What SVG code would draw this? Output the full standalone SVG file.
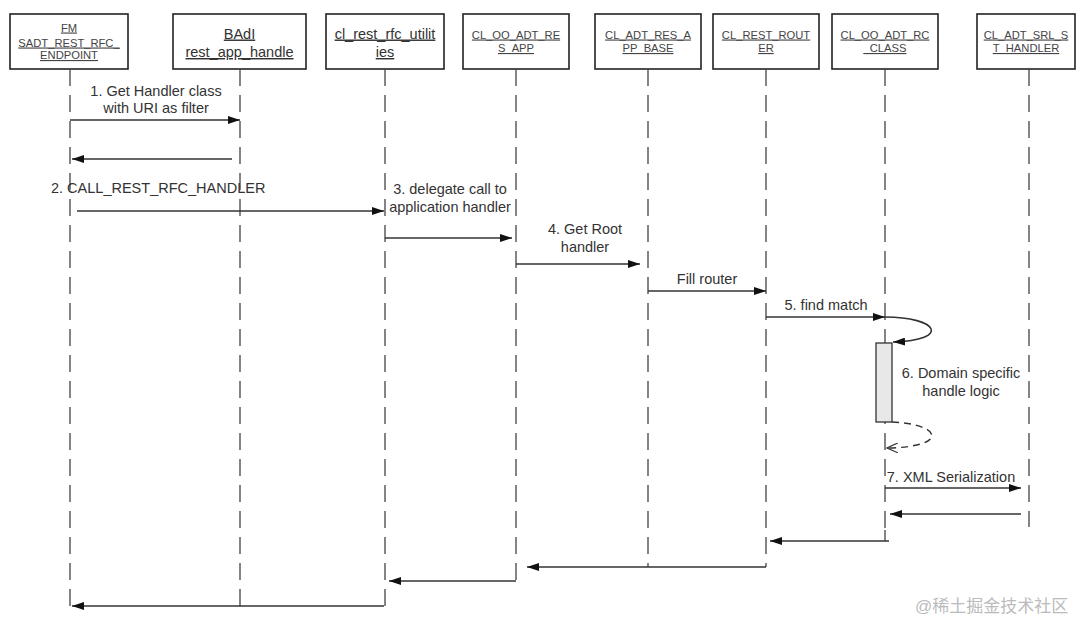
<svg xmlns="http://www.w3.org/2000/svg" width="1080" height="620" viewBox="0 0 1080 620">
<defs>
<marker id="ah" viewBox="0 0 12 8" refX="12" refY="4" markerWidth="12" markerHeight="8" markerUnits="userSpaceOnUse" orient="auto">
<path d="M0,0 L12,4 L0,8 Z" fill="#111"/>
</marker>
<marker id="oh" viewBox="0 0 12 10" refX="11" refY="5" markerWidth="12" markerHeight="10" markerUnits="userSpaceOnUse" orient="auto">
<path d="M0,0 L11,5 L0,10" fill="none" stroke="#333" stroke-width="1.2"/>
</marker>
<style>
.box{fill:#fff;stroke:#222;stroke-width:1.6}
.life{stroke:#444;stroke-width:1.3;stroke-dasharray:17 9;fill:none}
.msg{stroke:#333;stroke-width:1.6;fill:none;marker-end:url(#ah)}
.sm{font-family:"Liberation Sans",Arial,sans-serif;font-size:11.2px;fill:#444;text-anchor:middle;text-decoration:underline}
.lg{font-family:"Liberation Sans",Arial,sans-serif;font-size:14.5px;fill:#333;text-anchor:middle;text-decoration:underline}
.lbl{font-family:"Liberation Sans",Arial,sans-serif;font-size:14.5px;fill:#333;text-anchor:middle}
</style>
</defs>
<rect width="1080" height="620" fill="#fff"/>

<g id="n1">
<rect class="box" x="10" y="14" width="118" height="55"/>
<text class="sm" x="69" y="31.5">FM</text>
<text class="sm" x="69" y="46.5">SADT_REST_RFC_</text>
<text class="sm" x="69" y="59">ENDPOINT</text>
<line class="life" x1="70" y1="69" x2="70" y2="610"/>
</g>
<g id="n2">
<rect class="box" x="173" y="14" width="133" height="55"/>
<text class="lg" x="239.5" y="38.5">BAdI</text>
<text class="lg" x="239.5" y="57">rest_app_handle</text>
<line class="life" x1="240" y1="69" x2="240" y2="610"/>
</g>
<g id="n3">
<rect class="box" x="326" y="14" width="118" height="55"/>
<text class="lg" x="385" y="38.5">cl_rest_rfc_utilit</text>
<text class="lg" x="385" y="57">ies</text>
<line class="life" x1="385" y1="69" x2="385" y2="606"/>
</g>
<g id="n4">
<rect class="box" x="463" y="14" width="106" height="55"/>
<text class="sm" x="516" y="38.5">CL_OO_ADT_RE</text>
<text class="sm" x="516" y="52">S_APP</text>
<line class="life" x1="516" y1="69" x2="516" y2="581"/>
</g>
<g id="n5">
<rect class="box" x="595" y="14" width="106" height="55"/>
<text class="sm" x="648" y="38.5">CL_ADT_RES_A</text>
<text class="sm" x="648" y="52">PP_BASE</text>
<line class="life" x1="648" y1="69" x2="648" y2="567"/>
</g>
<g id="n6">
<rect class="box" x="713" y="14" width="106" height="55"/>
<text class="sm" x="766" y="38.5">CL_REST_ROUT</text>
<text class="sm" x="766" y="52">ER</text>
<line class="life" x1="766" y1="69" x2="766" y2="567"/>
</g>
<g id="n7">
<rect class="box" x="832" y="14" width="106" height="55"/>
<text class="sm" x="885" y="38.5">CL_OO_ADT_RC</text>
<text class="sm" x="885" y="52">_CLASS</text>
<line class="life" x1="885" y1="69" x2="885" y2="530"/>
<line x1="885" y1="530" x2="885" y2="541" stroke="#444" stroke-width="1.3"/>
<rect x="876" y="343" width="16" height="79" fill="#e8e8e8" stroke="#333" stroke-width="1.3"/>
</g>
<g id="n8">
<rect class="box" x="977" y="14" width="98" height="55"/>
<text class="sm" x="1026" y="38.5">CL_ADT_SRL_S</text>
<text class="sm" x="1026" y="52">T_HANDLER</text>
<line class="life" x1="1029" y1="69" x2="1029" y2="527"/>
</g>

<g id="connectors">
<line class="msg" x1="70" y1="120" x2="240" y2="120"/>
<line class="msg" x1="232" y1="159" x2="72" y2="159"/>
<line class="msg" x1="77" y1="211" x2="384" y2="211"/>
<line class="msg" x1="385" y1="238" x2="512" y2="238"/>
<line class="msg" x1="516" y1="264" x2="640" y2="264"/>
<line class="msg" x1="648" y1="291" x2="766" y2="291"/>
<line class="msg" x1="766" y1="317" x2="885" y2="317"/>
<path class="msg" d="M885,317 C938,317 952,340 893,342"/>
<path d="M892,422 C942,424 950,447 887,448" fill="none" stroke="#333" stroke-width="1.4" stroke-dasharray="7 5" marker-end="url(#oh)"/>
<line class="msg" x1="885" y1="488" x2="1021" y2="488"/>
<line class="msg" x1="1021" y1="514" x2="890" y2="514"/>
<line class="msg" x1="889" y1="541" x2="770" y2="541"/>
<line class="msg" x1="766" y1="567" x2="527" y2="567"/>
<line class="msg" x1="516" y1="581" x2="389" y2="581"/>
<line class="msg" x1="384" y1="606" x2="72" y2="606"/>
</g>

<g id="labels">
<text class="lbl" x="156" y="96">1. Get Handler class</text>
<text class="lbl" x="156" y="113">with URI as filter</text>
<text class="lbl" x="51" y="193" style="text-anchor:start">2. CALL_REST_RFC_HANDLER</text>
<text class="lbl" x="450" y="194">3. delegate call to</text>
<text class="lbl" x="450" y="212">application handler</text>
<text class="lbl" x="585" y="234">4. Get Root</text>
<text class="lbl" x="585" y="252">handler</text>
<text class="lbl" x="707" y="284">Fill router</text>
<text class="lbl" x="826" y="310">5. find match</text>
<text class="lbl" x="961" y="378">6. Domain specific</text>
<text class="lbl" x="961" y="396">handle logic</text>
<text class="lbl" x="951" y="482">7. XML Serialization</text>
</g>

<text x="915" y="612" font-family="'Liberation Sans','Noto Sans CJK SC',sans-serif" font-size="17" fill="#bbb">@稀土掘金技术社区</text>
</svg>
